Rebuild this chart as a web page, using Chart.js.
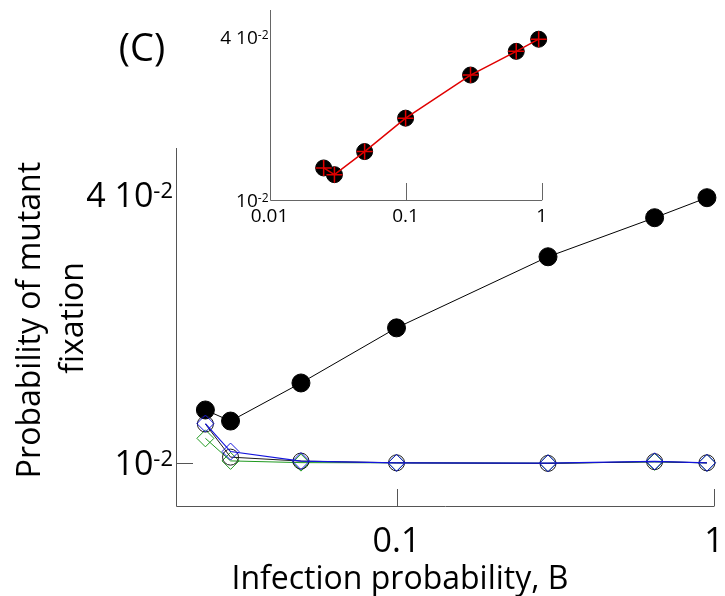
<!DOCTYPE html>
<html>
<head>
<meta charset="utf-8">
<script src="https://cdn.jsdelivr.net/npm/chart.js@4"></script>
<style>
  html, body { margin: 0; padding: 0; background: #fff; }
  #wrap { position: relative; width: 725px; height: 596px; }
  #main { position: absolute; left: 0; top: 0; }
  #inset { position: absolute; left: 190px; top: 0; }
</style>
</head>
<body>
<div id="wrap">
  <canvas id="main" width="725" height="596"></canvas>
  <canvas id="inset" width="370" height="235"></canvas>
</div>
<script>
// values
const infectionProb = [0.025, 0.03, 0.05, 0.1, 0.3, 0.65, 0.95];
const fixFilled = [0.01314, 0.01241, 0.01511, 0.02009, 0.02901, 0.03550, 0.03937];
const fixOpen = [0.01222, 0.01030, 0.01009, 0.01000, 0.00997, 0.01006, 0.01000];
const fixBlue = [0.01225, 0.01060, 0.01009, 0.01000, 0.00998, 0.01008, 0.01000];
const fixGreen = [0.01135, 0.01010, 0.01001, 0.01000, 0.00998, 0.01005, 0.01000];

const xTicks = [0.1, 1];
const xTickLabels = ["0.1", "1"];
const insetXTicks = [0.01, 0.1, 1];
const insetXTickLabels = ["0.01", "0.1", "1"];
const yTicks = [0.01, 0.04];
const yTickLabels = [["10", "-2"], ["4 10", "-2"]];

const FONT = "'Open Sans', 'DejaVu Sans', sans-serif";

const pts = ys => infectionProb.map((x, i) => ({ x, y: ys[i] }));

function series(ys, color, style, radius, filled, lineWidth) {
  return {
    data: pts(ys),
    borderColor: color,
    borderWidth: lineWidth,
    pointStyle: style,
    pointRadius: radius,
    pointBorderColor: color,
    pointBorderWidth: 1,
    pointBackgroundColor: filled ? color : "rgba(0,0,0,0)",
    tension: 0,
    clip: false
  };
}

// draws "base" with a raised "sup", right edge at x, vertically centred on y
function drawSupLabel(ctx, base, sup, x, y, size) {
  const supSize = Math.round(size * 0.64);
  ctx.font = `${supSize}px ${FONT}`;
  const supW = ctx.measureText(sup).width;
  ctx.font = `${size}px ${FONT}`;
  const baseW = ctx.measureText(base).width;
  const cap = size * 0.714;
  ctx.textAlign = "left";
  ctx.textBaseline = "alphabetic";
  ctx.fillText(base, x - supW - baseW, y + cap / 2);
  ctx.font = `${supSize}px ${FONT}`;
  ctx.fillText(sup, x - supW, y - cap / 2 + supSize * 0.714);
}

function framePlugin(cfg) {
  return {
    id: "frame",
    afterDraw(chart) {
      const { ctx, chartArea: a, scales: { x, y } } = chart;
      const snap = v => Math.round(v) + 0.5;
      ctx.save();
      ctx.strokeStyle = cfg.axisColor;
      ctx.lineWidth = 1;
      ctx.beginPath();
      ctx.moveTo(snap(a.left), a.top);
      ctx.lineTo(snap(a.left), snap(a.bottom));
      ctx.lineTo(a.right + 0.5, snap(a.bottom));
      cfg.xTicks.forEach(v => {
        const px = snap(x.getPixelForValue(v));
        ctx.moveTo(px, a.bottom);
        ctx.lineTo(px, a.bottom - cfg.tickLen);
      });
      cfg.yTickMarks.forEach(v => {
        const py = snap(y.getPixelForValue(v));
        ctx.moveTo(a.left, py);
        ctx.lineTo(a.left + cfg.tickLen, py);
      });
      ctx.stroke();

      ctx.fillStyle = "#000";
      ctx.font = `${cfg.tickSize}px ${FONT}`;
      ctx.textAlign = "center";
      ctx.textBaseline = "alphabetic";
      cfg.xLabelTicks.forEach((v, i) => {
        ctx.fillText(cfg.xLabels[i], x.getPixelForValue(v), a.bottom + cfg.xLabelBase);
      });
      cfg.yTicks.forEach((v, i) => {
        const [b, s] = cfg.yLabels[i];
        drawSupLabel(ctx, b, s, a.left - cfg.yLabelGap, y.getPixelForValue(v), cfg.tickSize);
      });
      if (cfg.extra) cfg.extra(ctx, a);
      ctx.restore();
    }
  };
}

new Chart(document.getElementById("main"), {
  type: "line",
  data: {
    datasets: [
      series(fixBlue, "#1414dc", "rectRot", 8.5, false, 1.2),
      series(fixOpen, "#1a1a1a", "circle", 8, false, 1),
      series(fixGreen, "#1f9a1f", "rectRot", 8.5, false, 1),
      series(fixFilled, "#000", "circle", 9, true, 1)
    ]
  },
  options: {
    responsive: false,
    animation: false,
    layout: { padding: { left: 176, top: 148, right: 11, bottom: 90 } },
    plugins: { legend: { display: false }, tooltip: { enabled: false } },
    scales: {
      x: { type: "logarithmic", display: false, min: 0.0202, max: 1 },
      y: { type: "logarithmic", display: false, min: 0.008, max: 0.0509 }
    }
  },
  plugins: [framePlugin({
    axisColor: "#555",
    tickLen: 17,
    tickSize: 34,
    xTicks: xTicks,
    xLabelTicks: xTicks,
    xLabels: xTickLabels,
    xLabelBase: 46,
    yTickMarks: [0.01],
    yTicks: yTicks,
    yLabels: yTickLabels,
    yLabelGap: 3,
    extra(ctx, a) {
      ctx.textAlign = "center";
      ctx.textBaseline = "alphabetic";
      ctx.font = `32px ${FONT}`;
      ctx.fillText("Infection probability, B", 400, 589);
      ctx.save();
      ctx.translate(40, 320);
      ctx.rotate(-Math.PI / 2);
      ctx.fillText("Probability of mutant", 0, 0);
      ctx.restore();
      ctx.save();
      ctx.translate(83, 318);
      ctx.rotate(-Math.PI / 2);
      ctx.fillText("fixation", 0, 0);
      ctx.restore();
      ctx.font = `38px ${FONT}`;
      ctx.fillText("(C)", 142, 61);
    }
  })]
});

new Chart(document.getElementById("inset"), {
  type: "line",
  data: {
    datasets: [
      {
        data: pts(fixFilled),
        borderColor: "#e00000",
        borderWidth: 1.5,
        pointStyle: "cross",
        pointRadius: 8,
        pointBorderColor: "#e00000",
        pointBorderWidth: 1.5,
        tension: 0,
        clip: false
      },
      {
        data: pts(fixFilled),
        showLine: false,
        pointStyle: "circle",
        pointRadius: 8,
        pointBackgroundColor: "#000",
        pointBorderColor: "#000",
        clip: false
      }
    ]
  },
  options: {
    responsive: false,
    animation: false,
    layout: { padding: { left: 79.5, top: 10, right: 18.3, bottom: 35 } },
    plugins: { legend: { display: false }, tooltip: { enabled: false } },
    scales: {
      x: { type: "logarithmic", display: false, min: 0.01, max: 1 },
      y: { type: "logarithmic", display: false, min: 0.01, max: 0.0505 }
    }
  },
  plugins: [framePlugin({
    axisColor: "#666",
    tickLen: 17,
    tickSize: 19,
    xTicks: xTicks,
    xLabelTicks: insetXTicks,
    xLabels: insetXTickLabels,
    xLabelBase: 22,
    yTickMarks: [],
    yTicks: yTicks,
    yLabels: yTickLabels,
    yLabelGap: 1
  })]
});
</script>
</body>
</html>
